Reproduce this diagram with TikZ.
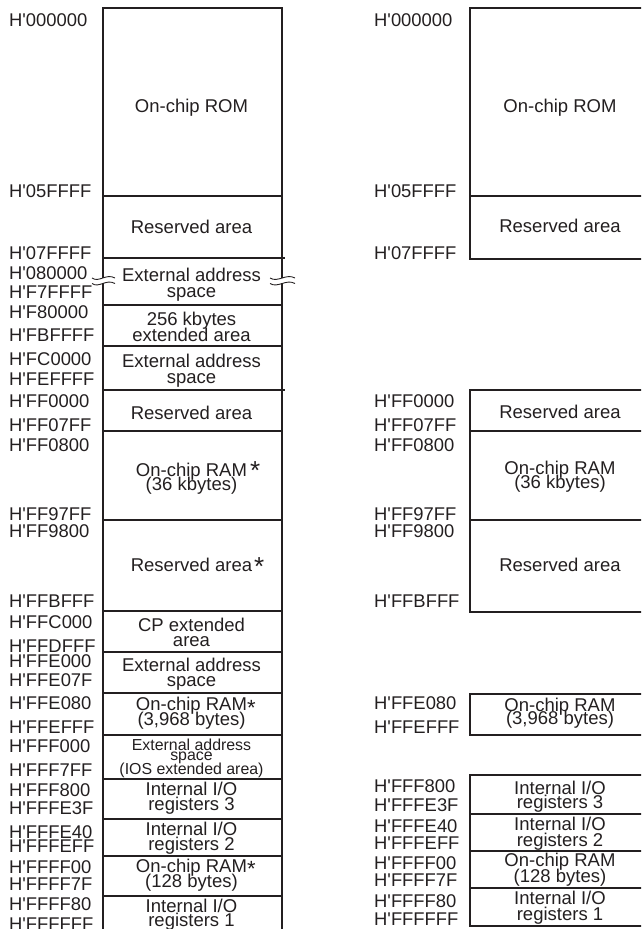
\documentclass[tikz,border=0pt]{standalone}
\usepackage{fontspec}
\setmainfont{Liberation Sans}
\definecolor{ink}{RGB}{35,31,32}
\newcommand\Hq{H\textquotesingle}
\newcommand\starmark[3]{\rlap{\hspace{#1}\raisebox{#3}{\fontsize{#2}{#2}\selectfont*}}}
\begin{document}
\begin{tikzpicture}[x=1pt,y=-1pt,
  mapline/.style={line width=1.4pt, draw=ink},
  brk/.style={line width=0.9pt, draw=ink},
  addr/.style={anchor=base west, inner sep=0pt, text=ink, font=\fontsize{18.4}{18.4}\selectfont},
  btxt/.style={anchor=base, inner sep=0pt, text=ink, font=\fontsize{18.5}{18.5}\selectfont},
  stxt/.style={anchor=base, inner sep=0pt, text=ink, font=\fontsize{15.9}{15.9}\selectfont}]
\useasboundingbox (0,0) rectangle (641,929);
\clip (0,0) rectangle (641,929);

% ---------- left column ----------
\draw[mapline] (103,278) -- (103,8) -- (282,8) -- (282,278);
\draw[mapline] (103,283) -- (103,940);
\draw[mapline] (282,283) -- (282,940);
\foreach \y in {196,305,346,431,520,611,652,693,735,779,819,856,896}
  \draw[mapline] (103,\y) -- (282,\y);
\draw[mapline] (103,258) -- (284.5,258);
\draw[mapline] (103,390) -- (284.5,390);
% break marks
\coordinate (bl1) at (92,278);  \coordinate (bl2) at (115,278);
\coordinate (bl3) at (92,283.5);\coordinate (bl4) at (115,283.5);
\coordinate (br1) at (270,278); \coordinate (br2) at (295,278);
\coordinate (br3) at (270,283.5);\coordinate (br4) at (295,283.5);
\draw[brk] (bl1) .. controls (99,283) and (106,273) .. (bl2);
\draw[brk] (bl3) .. controls (99,288.5) and (106,278.5) .. (bl4);
\draw[brk] (br1) .. controls (278,283) and (286,273) .. (br2);
\draw[brk] (br3) .. controls (278,288.5) and (286,278.5) .. (br4);

% left addresses
\foreach \t/\y [count=\i] in {000000/26,05FFFF/197,07FFFF/259,080000/279,F7FFFF/298,
  F80000/318,FBFFFF/341,FC0000/365,FEFFFF/385,FF0000/407,FF07FF/431,FF0800/451,
  FF97FF/520,FF9800/537,FFBFFF/607,FFC000/628,FFDFFF/652,FFE000/667,FFE07F/686,
  FFE080/709,FFEFFF/733,FFF000/752,FFF7FF/776,FFF800/796,FFFE3F/814,FFFE40/838,
  FFFEFF/852,FFFF00/873,FFFF7F/890,FFFF80/910,FFFFFF/930}
  \node[addr] (la\i) at (9,\y) {\Hq\t};

% left box texts
\node[btxt] (l1) at (191.5,112) {On-chip ROM};
\node[btxt] (l2) at (191.5,233) {Reserved area};
\node[btxt] (l3a) at (191.5,281) {External address};
\node[btxt] (l3b) at (191.5,297) {space};
\node[btxt] (l4a) at (191.5,325) {256 kbytes};
\node[btxt] (l4b) at (191.5,341) {extended area};
\node[btxt] (l5a) at (191.5,367) {External address};
\node[btxt] (l5b) at (191.5,383) {space};
\node[btxt] (l6) at (191.5,419) {Reserved area};
\node[btxt] (l7a) at (191.5,476) {On-chip RAM\starmark{3pt}{26}{-3pt}};
\node[btxt] (l7b) at (191.5,490) {(36 kbytes)};
\node[btxt] (l8) at (191.5,571) {Reserved area\starmark{2pt}{26}{-4pt}};
\node[btxt] (l9a) at (191.5,631) {CP extended};
\node[btxt] (l9b) at (191.5,646) {area};
\node[btxt] (l10a) at (191.5,671) {External address};
\node[btxt] (l10b) at (191.5,686) {space};
\node[btxt] (l11a) at (191.5,710) {On-chip RAM\starmark{0pt}{22}{-5.5pt}};
\node[btxt] (l11b) at (191.5,725) {(3,968 bytes)};
\node[stxt] (l12a) at (191.5,750) {External address};
\node[stxt] (l12b) at (191.5,760.5) {space};
\node[stxt] (l12c) at (191.5,774) {(IOS extended area)};
\node[btxt] (l13a) at (191.5,795) {Internal I/O};
\node[btxt] (l13b) at (191.5,810) {registers 3};
\node[btxt] (l14a) at (191.5,835) {Internal I/O};
\node[btxt] (l14b) at (191.5,850) {registers 2};
\node[btxt] (l15a) at (191.5,872) {On-chip RAM\starmark{0pt}{22}{-4.5pt}};
\node[btxt] (l15b) at (191.5,887) {(128 bytes)};
\node[btxt] (l16a) at (191.5,912) {Internal I/O};
\node[btxt] (l16b) at (191.5,926) {registers 1};

% ---------- right column ----------
\draw[mapline] (470,8) rectangle (652,259);
\draw[mapline] (470,196) -- (652,196);
\draw[mapline] (470,390) rectangle (652,612);
\draw[mapline] (470,431) -- (652,431);
\draw[mapline] (470,520) -- (652,520);
\draw[mapline] (470,694) rectangle (652,735);
\draw[mapline] (470,775) rectangle (652,926);
\foreach \y in {814,851,888}
  \draw[mapline] (470,\y) -- (652,\y);

\foreach \t/\y [count=\i] in {000000/26,05FFFF/197,07FFFF/259,FF0000/407,FF07FF/431,
  FF0800/451,FF97FF/520,FF9800/537,FFBFFF/607,FFE080/709,FFEFFF/733,FFF800/792,
  FFFE3F/811,FFFE40/832,FFFEFF/849,FFFF00/869,FFFF7F/886,FFFF80/907,FFFFFF/925}
  \node[addr] (ra\i) at (374,\y) {\Hq\t};

\node[btxt] (r1) at (560,112) {On-chip ROM};
\node[btxt] (r2) at (560,232) {Reserved area};
\node[btxt] (r3) at (560,418) {Reserved area};
\node[btxt] (r4a) at (560,474) {On-chip RAM};
\node[btxt] (r4b) at (560,488) {(36 kbytes)};
\node[btxt] (r5) at (560,571) {Reserved area};
\node[btxt] (r6a) at (560,711) {On-chip RAM};
\node[btxt] (r6b) at (560,724) {(3,968 bytes)};
\node[btxt] (r7a) at (560,794) {Internal I/O};
\node[btxt] (r7b) at (560,808) {registers 3};
\node[btxt] (r8a) at (560,830) {Internal I/O};
\node[btxt] (r8b) at (560,846) {registers 2};
\node[btxt] (r9a) at (560,866) {On-chip RAM};
\node[btxt] (r9b) at (560,882) {(128 bytes)};
\node[btxt] (r10a) at (560,904) {Internal I/O};
\node[btxt] (r10b) at (560,920) {registers 1};
\end{tikzpicture}
\end{document}
